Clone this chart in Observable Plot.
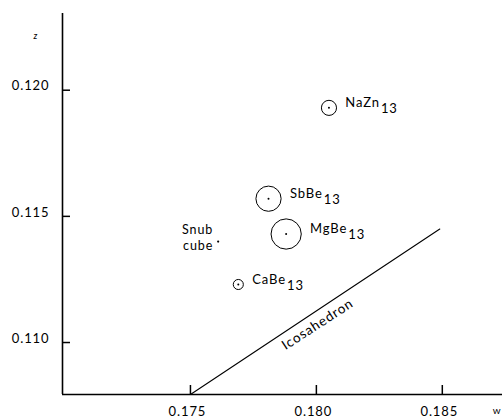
<!DOCTYPE html>
<html>
<head>
<meta charset="utf-8">
<script src="https://cdn.jsdelivr.net/npm/d3@7"></script>
<script src="https://cdn.jsdelivr.net/npm/@observablehq/plot@0.6"></script>
<style>
  html, body { margin: 0; padding: 0; background: #fff; }
  svg text { font-family: Lato, "DejaVu Sans", sans-serif; letter-spacing: 0.9px; }
</style>
</head>
<body>
<div id="chart"></div>
<script>
// Axis ticks
const wTicks = [0.175, 0.180, 0.185];
const zTicks = [0.110, 0.115, 0.120];
const wDomain = [0.16992, 0.18739];
const zDomain = [0.10794, 0.12304];

// Compounds (w, z) with circle radius (spread, in data units)
const compounds = ["NaZn", "SbBe", "MgBe", "CaBe"];
const subscripts = ["13", "13", "13", "13"];
const wValues = [0.1805, 0.1781, 0.1788, 0.1769];
const zValues = [0.1193, 0.1157, 0.1143, 0.1123];
const spreads = [0.0003, 0.0005, 0.0006, 0.0002];

// Snub cube point
const snubW = [0.1761];
const snubZ = [0.1140];

// Icosahedron line
const icosaW = [0.175, 0.1849];
const icosaZ = [0.10794, 0.1145];
const icosaLabel = [{w: 0.18005, z: 0.11072, text: "Icosahedron"}];

const points = compounds.map((name, i) => ({
  name, sub: subscripts[i], w: wValues[i], z: zValues[i], spread: spreads[i]
}));
const snub = snubW.map((w, i) => ({w, z: snubZ[i]}));
const icosa = icosaW.map((w, i) => ({w, z: icosaZ[i]}));

const fmt = d3.format(".3f");
const W = 502, H = 419, mT = 13, mR = 0, mB = 25, mL = 62;
// tick lengths converted from pixels to data units
const tickLenW = 8 * (wDomain[1] - wDomain[0]) / (W - mL - mR);
const tickLenZ = 9 * (zDomain[1] - zDomain[0]) / (H - mT - mB);
const zTickSegs = zTicks.map(t => ({z: t, w1: wDomain[0], w2: wDomain[0] + tickLenW}));
const wTickSegs = wTicks.map(t => ({w: t, z1: zDomain[0], z2: zDomain[0] + tickLenZ}));
const axisV = [{w: wDomain[0], z1: zDomain[0], z2: zDomain[1]}];
const axisH = [{z: zDomain[0], w1: wDomain[0], w2: wDomain[1]}];

const plot = Plot.plot({
  width: W,
  height: H,
  marginTop: mT,
  marginRight: mR,
  marginBottom: mB,
  marginLeft: mL,
  style: {fontSize: "13px", color: "#000", background: "#fff"},
  x: {domain: wDomain},
  y: {domain: zDomain},
  r: {type: "linear", domain: [0, 0.001], range: [0, 25.2]},
  marks: [
    Plot.ruleX(axisV, {x: "w", y1: "z1", y2: "z2", strokeWidth: 1.6}),
    Plot.ruleY(axisH, {y: "z", x1: "w1", x2: "w2", strokeWidth: 1.6}),
    // tick labels
    Plot.axisY(zTicks, {anchor: "left", tickSize: 0, tickPadding: 13, dy: -4, tickFormat: fmt, fontSize: 13, label: null}),
    Plot.axisX(wTicks, {anchor: "bottom", tickSize: 0, tickPadding: 12, dx: -3, tickFormat: fmt, fontSize: 13, label: null}),
    Plot.text(["z"], {frameAnchor: "top-left", dx: -29, dy: 19, fontStyle: "italic", fontSize: 9}),
    Plot.text(["w"], {frameAnchor: "bottom-right", dx: -1, dy: 19, textAnchor: "end", fontSize: 10}),
    Plot.line(icosa, {x: "w", y: "z", stroke: "#000", strokeWidth: 1.1}),
    Plot.text(icosaLabel, {x: "w", y: "z", text: "text", rotate: -33, fontSize: 13.5}),
    Plot.dot(points, {x: "w", y: "z", r: "spread", stroke: "#000", strokeWidth: 1, fill: "none"}),
    Plot.dot(points, {x: "w", y: "z", r: 1, fill: "#000", stroke: null}),
    Plot.dot(snub, {x: "w", y: "z", r: 1.1, fill: "#000", stroke: null}),
    Plot.text(snub, {x: "w", y: "z", text: () => "Snub\ncube", textAnchor: "end", dx: -5, dy: -5, fontSize: 12.5, lineHeight: 1.3}),
    Plot.text(points, {x: d => d.w + d.spread + 0.00035, y: "z", text: "name", textAnchor: "start", dy: -5, fontSize: 13}),
    // inward tick marks, drawn last
    Plot.ruleY(zTickSegs, {y: "z", x1: "w1", x2: "w2", stroke: "#000", strokeWidth: 1.5}),
    Plot.ruleX(wTickSegs, {x: "w", y1: "z1", y2: "z2", stroke: "#000", strokeWidth: 1.5})
  ]
});

document.getElementById("chart").appendChild(plot);

// add subscripts as tspans to the compound labels
const byName = new Map(points.map(p => [p.name, p]));
plot.querySelectorAll("text").forEach(t => {
  const p = byName.get(t.textContent);
  if (!p) return;
  const ts = document.createElementNS("http://www.w3.org/2000/svg", "tspan");
  ts.setAttribute("dx", "1");
  ts.setAttribute("dy", "6");
  ts.textContent = p.sub;
  t.appendChild(ts);
});
</script>
</body>
</html>
